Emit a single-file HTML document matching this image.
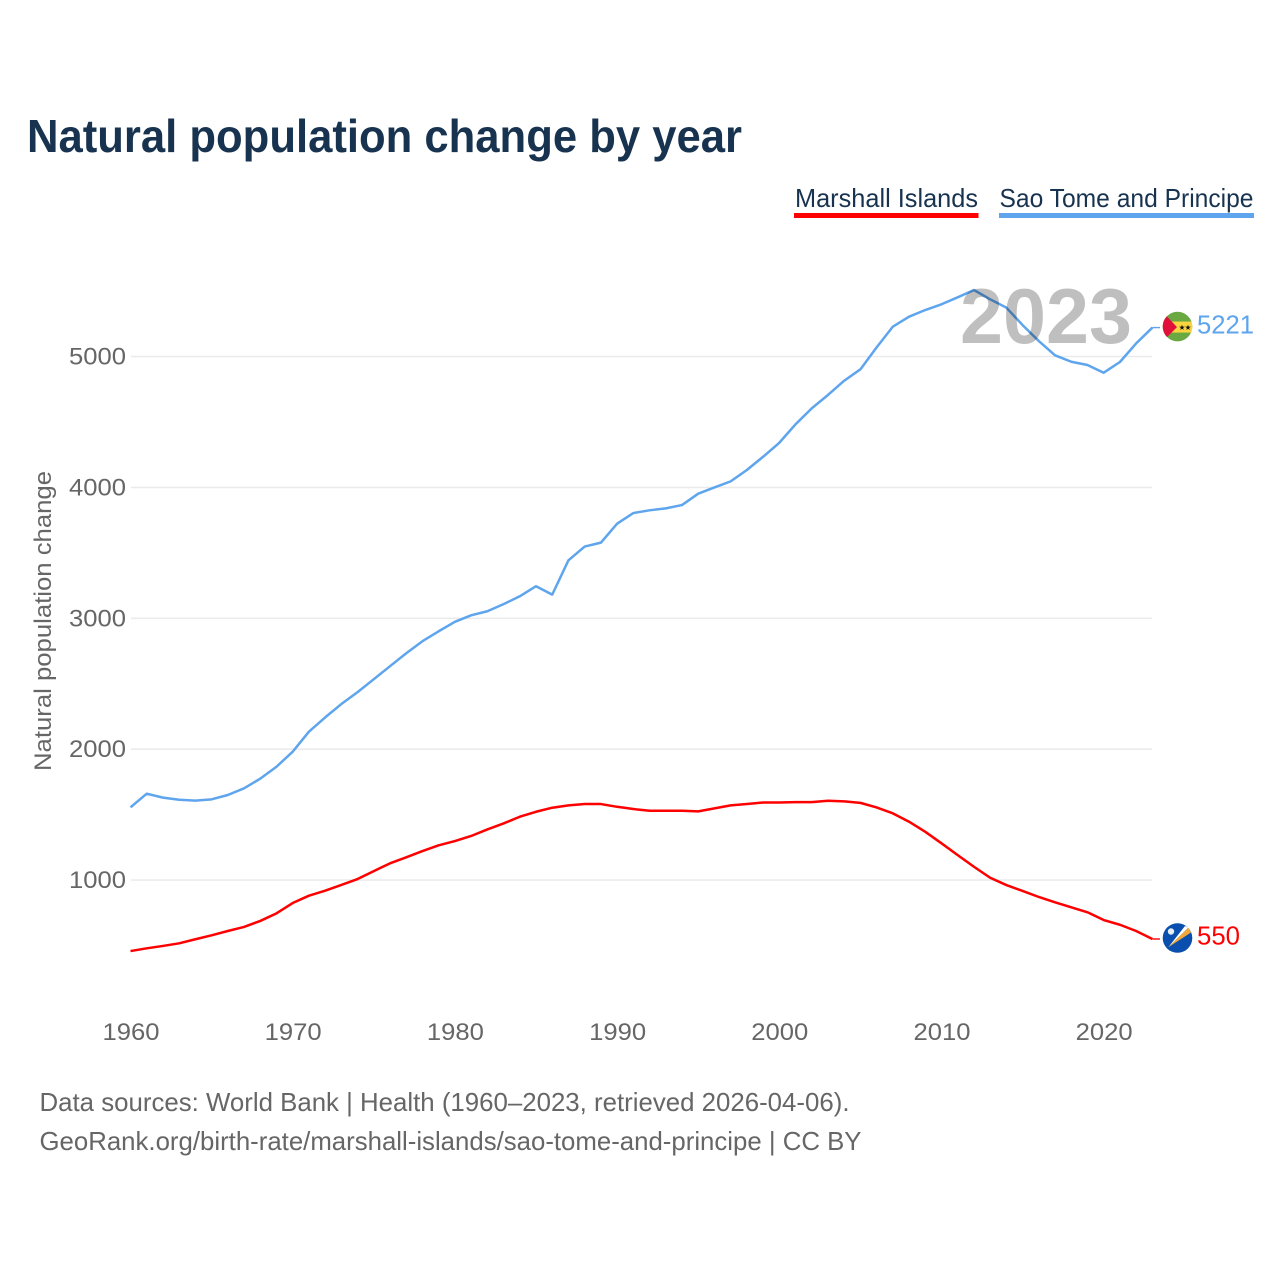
<!DOCTYPE html>
<html lang="en">
<head>
<meta charset="utf-8">
<title>Natural population change by year</title>
<style>
html,body{margin:0;padding:0;background:#fff;width:1280px;height:1280px;overflow:hidden}
svg{display:block}
text{font-family:"Liberation Sans",sans-serif}
</style>
</head>
<body>
<svg id="chart" width="1280" height="1280" viewBox="0 0 1280 1280" xmlns="http://www.w3.org/2000/svg">
  <defs>
    <clipPath id="flag-clip"><circle cx="0" cy="0" r="14.8"/></clipPath>
  </defs>
  <text x="27" y="152" font-size="46" font-weight="700" fill="#18334f" textLength="715" lengthAdjust="spacingAndGlyphs">Natural population change by year</text>

  <g>
    <g>
      <text x="795" y="207" font-size="26" fill="#18334f" textLength="183" lengthAdjust="spacingAndGlyphs">Marshall Islands</text>
      <rect x="794" y="213" width="184.500" height="5" fill="#ff0000"/>
    </g>
    <g>
      <text x="999.500" y="207" font-size="26" fill="#18334f" textLength="254" lengthAdjust="spacingAndGlyphs">Sao Tome and Principe</text>
      <rect x="999" y="213" width="255" height="5" fill="#5ea5ee"/>
    </g>
  </g>

  <text transform="translate(51,771) rotate(-90)" font-size="24" fill="#666666" textLength="300" lengthAdjust="spacingAndGlyphs">Natural population change</text>

  <g id="grid"></g>
  <g id="y-ticks"></g>
  <g id="x-ticks"></g>
  <g id="series"></g>

  <text id="year-label" x="960" y="343" font-size="78" font-weight="700" fill="#000000" fill-opacity="0.25" textLength="172" lengthAdjust="spacingAndGlyphs">2023</text>

  <g id="flag-stp">
    <g clip-path="url(#flag-clip)">
      <rect x="-16" y="-16" width="32" height="32" fill="#6aa842"/>
      <rect x="-16" y="-5" width="32" height="11" fill="#fcd440"/>
      <polygon points="-16,-16 -0.500,0.500 -16,16" fill="#e0103a"/>
      <text x="4.500" y="3.500" font-size="7.500" text-anchor="middle" fill="#111111" style="font-family:'DejaVu Sans',sans-serif">★</text>
      <text x="10.500" y="3.500" font-size="7.500" text-anchor="middle" fill="#111111" style="font-family:'DejaVu Sans',sans-serif">★</text>
    </g>
  </g>
  <g id="flag-mhl">
    <g clip-path="url(#flag-clip)">
      <rect x="-16" y="-16" width="32" height="32" fill="#0a4fad"/>
      <polygon points="-9.200,9.300 7.500,-12 11,-10.500" fill="#ffffff"/>
      <polygon points="-9.200,9.300 11,-10.500 13.500,-5.500" fill="#f5a83a"/>
      <circle cx="-6.500" cy="-6.500" r="3.200" fill="#e6eef8"/>
    </g>
  </g>

  <g id="end-labels"></g>

  <g>
    <text x="39.500" y="1111" font-size="26" fill="#666666" textLength="810" lengthAdjust="spacingAndGlyphs">Data sources: World Bank | Health (1960–2023, retrieved 2026-04-06).</text>
    <text x="39.500" y="1150" font-size="26" fill="#666666" textLength="822" lengthAdjust="spacingAndGlyphs">GeoRank.org/birth-rate/marshall-islands/sao-tome-and-principe | CC BY</text>
  </g>
</svg>
<script>
const firstYear = 1960;
const yTickValues = [1000, 2000, 3000, 4000, 5000];
const xTickValues = [1960, 1970, 1980, 1990, 2000, 2010, 2020];
const marshallIslands = [458,479,497,517,548,578,611,642,688,746,825,881,919,963,1008,1069,1128,1174,1222,1266,1298,1337,1387,1433,1484,1522,1553,1571,1581,1581,1560,1543,1530,1530,1530,1525,1548,1571,1581,1593,1593,1596,1596,1606,1601,1590,1555,1510,1446,1369,1281,1191,1102,1018,962,917,871,830,792,754,695,659,611,550];
const saoTome = [1556,1660,1630,1614,1607,1617,1650,1701,1775,1866,1981,2134,2243,2345,2436,2535,2634,2733,2825,2901,2973,3023,3054,3108,3168,3245,3181,3443,3548,3578,3723,3804,3825,3840,3865,3952,4000,4046,4133,4234,4341,4482,4604,4706,4815,4902,5070,5228,5304,5355,5399,5452,5508,5437,5373,5240,5118,5009,4960,4935,4876,4958,5100,5221];

const NS = 'http://www.w3.org/2000/svg';
function xScale(year) { return 130.5 + (year - 1960) * 16.22; }
function yScale(value) { return 880.1 - (value - 1000) * 0.1309; }
function make(tag, parent) {
  const el = document.createElementNS(NS, tag);
  document.getElementById(parent).appendChild(el);
  return el;
}

yTickValues.forEach(function (v) {
  const line = make('line', 'grid');
  
  
  line.setAttribute('x1', 131);
  line.setAttribute('x2', 1152);
  line.setAttribute('y1', yScale(v));
  line.setAttribute('y2', yScale(v));
  line.setAttribute('stroke', '#ebebeb');
  line.setAttribute('stroke-width', 1.6);

  const label = make('text', 'y-ticks');
  
  
  label.setAttribute('x', 69);
  label.setAttribute('y', yScale(v) + 8);
  label.setAttribute('font-size', 24);
  label.setAttribute('fill', '#666666');
  label.setAttribute('textLength', 57);
  label.setAttribute('lengthAdjust', 'spacingAndGlyphs');
  label.textContent = String(v);
});

xTickValues.forEach(function (t) {
  const label = make('text', 'x-ticks');
  
  
  label.setAttribute('x', xScale(t) - 28);
  label.setAttribute('y', 1040);
  label.setAttribute('font-size', 24);
  label.setAttribute('fill', '#666666');
  label.setAttribute('textLength', 57);
  label.setAttribute('lengthAdjust', 'spacingAndGlyphs');
  label.textContent = String(t);
});

function drawSeries(values, color, key, flagId, labelWidth, labelDy) {
  const pts = values.map(function (v, i) {
    return xScale(firstYear + i).toFixed(2) + ',' + yScale(v).toFixed(2);
  }).join(' ');
  const line = make('polyline', 'series');
  
  
  line.setAttribute('points', pts);
  line.setAttribute('fill', 'none');
  line.setAttribute('stroke', color);
  line.setAttribute('stroke-width', 2.5);
  line.setAttribute('stroke-linejoin', 'round');

  const lastValue = values[values.length - 1];
  const lastX = xScale(firstYear + values.length - 1);
  const lastY = yScale(lastValue);

  const leader = make('line', 'series');
  
  
  leader.setAttribute('x1', lastX);
  leader.setAttribute('x2', 1160);
  leader.setAttribute('y1', lastY);
  leader.setAttribute('y2', lastY);
  leader.setAttribute('stroke', color);
  leader.setAttribute('stroke-width', 1.4);

  document.getElementById(flagId).setAttribute('transform', 'translate(1177.5,' + (lastY - 1) + ')');

  const label = make('text', 'end-labels');
  
  
  label.setAttribute('x', 1197);
  label.setAttribute('y', lastY + labelDy);
  label.setAttribute('font-size', 26);
  label.setAttribute('fill', color);
  label.setAttribute('textLength', labelWidth);
  label.setAttribute('lengthAdjust', 'spacingAndGlyphs');
  label.textContent = String(lastValue);
}

drawSeries(saoTome, '#5ea5ee', 'sao-tome-and-principe', 'flag-stp', 57, 6);
drawSeries(marshallIslands, '#ff0000', 'marshall-islands', 'flag-mhl', 43, 5.5);
</script>
</body>
</html>
